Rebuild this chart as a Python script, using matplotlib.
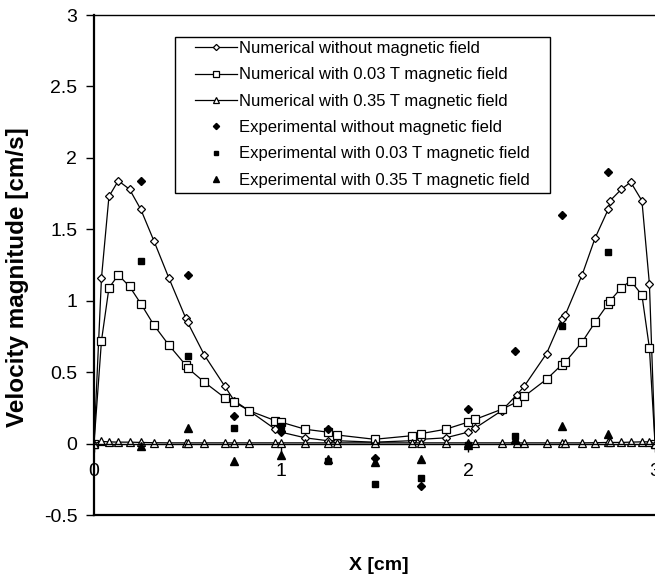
import numpy as np
import matplotlib
matplotlib.use("Agg")
import matplotlib.pyplot as plt
from matplotlib.patches import Rectangle
from matplotlib.ticker import FormatStrFormatter

plt.rcParams['font.family'] = ['Liberation Sans', 'DejaVu Sans']

# numerical results (shared x positions)
x_num = [0.00, 0.04, 0.08, 0.13, 0.19, 0.25, 0.32, 0.40, 0.49, 0.50,
         0.59, 0.70, 0.75, 0.83, 0.97, 1.00, 1.13, 1.25, 1.30, 1.50,
         1.70, 1.75, 1.88, 2.00, 2.04, 2.18, 2.26, 2.30, 2.42, 2.50,
         2.52, 2.61, 2.68, 2.75, 2.76, 2.82, 2.87, 2.93, 2.97, 3.00]
num_no_field = [0.00, 1.16, 1.73, 1.84, 1.78, 1.64, 1.42, 1.16, 0.88, 0.85,
                0.62, 0.40, 0.30, 0.23, 0.10, 0.08, 0.04, 0.02, 0.02, 0.01,
                0.02, 0.03, 0.04, 0.08, 0.11, 0.23, 0.34, 0.40, 0.63, 0.87,
                0.90, 1.18, 1.44, 1.64, 1.70, 1.78, 1.83, 1.70, 1.12, 0.00]
num_003T = [0.00, 0.72, 1.09, 1.18, 1.10, 0.98, 0.83, 0.69, 0.55, 0.53,
            0.43, 0.32, 0.29, 0.23, 0.16, 0.15, 0.10, 0.08, 0.06, 0.03,
            0.055, 0.07, 0.10, 0.15, 0.17, 0.24, 0.29, 0.33, 0.45, 0.55,
            0.57, 0.71, 0.85, 0.98, 1.00, 1.09, 1.14, 1.04, 0.67, 0.00]
num_035T = [0.000, 0.015, 0.012, 0.010, 0.010, 0.008, 0.006, 0.005, 0.005, 0.005,
            0.005, 0.005, 0.005, 0.005, 0.005, 0.005, 0.005, 0.005, 0.005, 0.005,
            0.005, 0.005, 0.005, 0.005, 0.005, 0.005, 0.005, 0.005, 0.005, 0.005,
            0.005, 0.005, 0.006, 0.008, 0.008, 0.008, 0.010, 0.012, 0.012, 0.000]

# experimental measurements
x_exp = [0.25, 0.50, 0.75, 1.00, 1.25, 1.50, 1.75, 2.00, 2.25, 2.50, 2.75]
exp_no_field = [1.84, 1.18, 0.19, 0.09, 0.10, -0.10, -0.30, 0.24, 0.65, 1.60, 1.90]
exp_003T = [1.28, 0.61, 0.11, 0.12, -0.12, -0.28, -0.24, -0.01, 0.05, 0.82, 1.34]
exp_035T = [-0.02, 0.11, -0.12, -0.08, -0.11, -0.13, -0.11, -0.01, 0.03, 0.12, 0.07]

labels = ['Numerical without magnetic field',
          'Numerical with 0.03 T magnetic field',
          'Numerical with 0.35 T magnetic field',
          'Experimental without magnetic field',
          'Experimental with 0.03 T magnetic field',
          'Experimental with 0.35 T magnetic field']

fig = plt.figure(figsize=(6.55, 5.76), dpi=100)
ax = fig.add_axes([94 / 655, 61 / 576, 561 / 655, 500 / 576])

line_kw = dict(color='black', lw=0.9, mfc='white', mec='black', mew=0.9)
ax.plot(x_num, num_no_field, marker='D', ms=4.5, label=labels[0], **line_kw)
ax.plot(x_num, num_003T, marker='s', ms=5.5, label=labels[1], **line_kw)
ax.plot(x_num, num_035T, marker='^', ms=5.5, label=labels[2], **line_kw)

ax.plot(x_exp, exp_no_field, 'D', ms=4.5, color='black', ls='none', label=labels[3])
ax.plot(x_exp, exp_003T, 's', ms=5, color='black', ls='none', label=labels[4])
ax.plot(x_exp, exp_035T, '^', ms=5.5, color='black', ls='none', label=labels[5])

ax.set_xlim(0, 3)
ax.set_ylim(-0.5, 3)
ax.set_xticks([0, 1, 2, 3])
ax.set_yticks(np.arange(-0.5, 3.01, 0.5))
ax.yaxis.set_major_formatter(FormatStrFormatter('%g'))

ax.spines['right'].set_visible(False)
ax.spines['bottom'].set_position(('data', 0))
ax.spines['bottom'].set_linewidth(1.0)
ax.spines['left'].set_linewidth(1.6)
ax.spines['top'].set_linewidth(1.0)
ax.axhline(-0.5, color='black', lw=1.6, clip_on=False)

ax.tick_params(axis='y', direction='out', length=6, width=1, labelsize=14, pad=6)
ax.tick_params(axis='x', direction='out', length=6, width=1, labelsize=14, pad=8)

# legend: entries without frame, box drawn separately
leg = ax.legend(loc='upper left', bbox_to_anchor=((195 - 94) / 561, (515 - 41) / 500),
                borderaxespad=0, borderpad=0, fontsize=12, frameon=False,
                handlelength=2.5, markerscale=0.7, labelspacing=0.68,
                handletextpad=0.15)
ax.add_patch(Rectangle(((175 - 94) / 561, (515 - 193) / 500), (550 - 175) / 561,
                       (193 - 37) / 500, transform=ax.transAxes, fill=True,
                       facecolor='white', edgecolor='black', lw=1.0, zorder=4))
leg.set_zorder(5)

fig.text(379 / 655, 1 - 565 / 576, 'X [cm]', ha='center', va='center',
         fontsize=14, fontweight='bold')
fig.text(18 / 655, 1 - 277 / 576, 'Velocity magnitude [cm/s]', ha='center',
         va='center', rotation=90, fontsize=17.5, fontweight='bold')

fig.savefig('out.png', dpi=100)
